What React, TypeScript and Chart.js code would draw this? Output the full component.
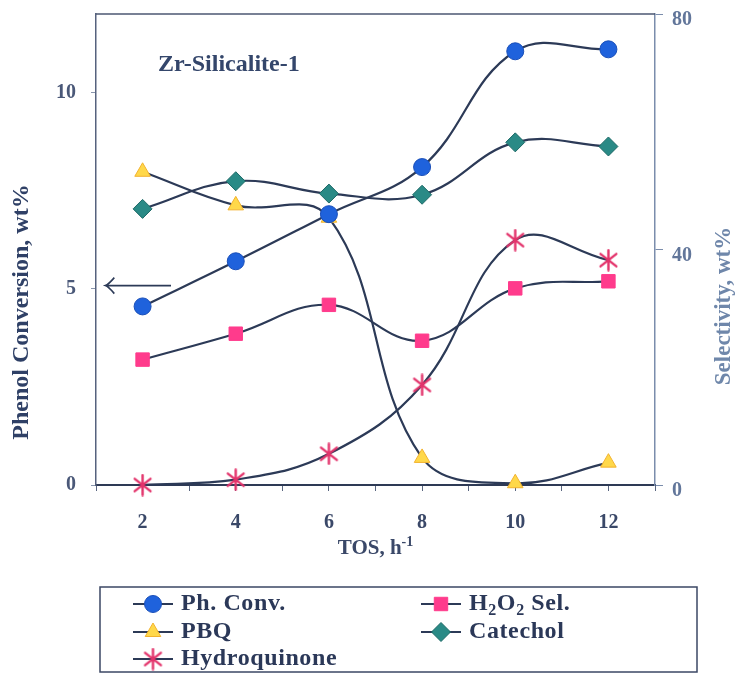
import React, { useEffect, useRef } from 'react';
import { Chart, registerables } from 'chart.js';

Chart.register(...registerables);

// ---- data ----
const tos = [2, 4, 6, 8, 10, 12];
const phConv = [4.55, 5.7, 6.9, 8.1, 11.05, 11.1];
const h2o2Sel = [21.3, 25.7, 30.6, 24.5, 33.4, 34.6];
const pbq = [53.2, 47.5, 45.4, 4.6, 0.3, 3.8];
const catechol = [46.9, 51.6, 49.5, 49.3, 58.2, 57.5];
const hydroquinone = [0, 0.9, 5.3, 17.0, 41.6, 38.2];

const seriesNames = ['Ph. Conv.', 'H₂O₂ Sel.', 'PBQ', 'Catechol', 'Hydroquinone'];
const xTickLabels = [2, 4, 6, 8, 10, 12];
const leftTicks = [0, 5, 10];
const rightTicks = [0, 40, 80];

const FONT = '"Liberation Serif", "Times New Roman", serif';
const LINE = '#2c3a57';

function makeAsterisk(color: string, size: number) {
  const c = document.createElement('canvas');
  c.width = size;
  c.height = size;
  const g = c.getContext('2d')!;
  g.strokeStyle = color;
  g.lineWidth = 2.4;
  g.lineCap = 'round';
  const r = size / 2 - 1.5;
  const cx = size / 2;
  g.beginPath();
  for (const a of [90, 38, 142]) {
    const rad = (a * Math.PI) / 180;
    g.moveTo(cx - r * Math.cos(rad), cx + r * Math.sin(rad));
    g.lineTo(cx + r * Math.cos(rad), cx - r * Math.sin(rad));
  }
  g.stroke();
  return c;
}

function drawMarker(ctx: CanvasRenderingContext2D, ds: any, x: number, y: number) {
  const style = ds.pointStyle;
  const r = ds.pointRadius;
  ctx.save();
  ctx.fillStyle = ds.pointBackgroundColor;
  ctx.strokeStyle = ds.pointBorderColor;
  ctx.lineWidth = ds.pointBorderWidth;
  if (typeof style !== 'string') {
    ctx.drawImage(style, x - style.width / 2, y - style.height / 2);
    ctx.restore();
    return;
  }
  ctx.beginPath();
  if (style === 'circle') {
    ctx.arc(x, y, r, 0, Math.PI * 2);
  } else if (style === 'rect') {
    const s = Math.SQRT1_2 * r;
    ctx.rect(x - s, y - s, 2 * s, 2 * s);
  } else if (style === 'triangle') {
    for (let i = 0; i < 3; i++) {
      const a = -Math.PI / 2 + (i * 2 * Math.PI) / 3;
      const px = x + r * Math.cos(a);
      const py = y + r * Math.sin(a);
      if (i === 0) ctx.moveTo(px, py);
      else ctx.lineTo(px, py);
    }
    ctx.closePath();
  } else if (style === 'rectRot') {
    ctx.moveTo(x, y - r);
    ctx.lineTo(x + r, y);
    ctx.lineTo(x, y + r);
    ctx.lineTo(x - r, y);
    ctx.closePath();
  }
  ctx.fill();
  ctx.stroke();
  ctx.restore();
}

function drawSubSupText(
  ctx: CanvasRenderingContext2D,
  parts: { t: string; k: 'n' | 'sub' | 'sup' }[],
  x: number,
  y: number,
  size: number,
  align: 'left' | 'center'
) {
  const big = `bold ${size}px ${FONT}`;
  const small = `bold ${Math.round(size * 0.68)}px ${FONT}`;
  let total = 0;
  for (const p of parts) {
    ctx.font = p.k === 'n' ? big : small;
    total += ctx.measureText(p.t).width;
  }
  let cx = align === 'center' ? x - total / 2 : x;
  ctx.textAlign = 'left';
  ctx.textBaseline = 'middle';
  for (const p of parts) {
    ctx.font = p.k === 'n' ? big : small;
    const dy = p.k === 'sub' ? size * 0.28 : p.k === 'sup' ? -size * 0.32 : 0;
    ctx.fillText(p.t, cx, y + dy);
    cx += ctx.measureText(p.t).width;
  }
}

function splitSub(label: string) {
  const map: Record<string, string> = { '₂': '2', '₁': '1', '₃': '3' };
  const parts: { t: string; k: 'n' | 'sub' | 'sup' }[] = [];
  for (const ch of label) {
    const k = map[ch] ? 'sub' : 'n';
    const t = map[ch] || ch;
    const last = parts[parts.length - 1];
    if (last && last.k === k) last.t += t;
    else parts.push({ t, k });
  }
  return parts;
}

export default function App() {
  const ref = useRef<HTMLCanvasElement>(null);

  useEffect(() => {
    const canvas = ref.current!;
    const star = makeAsterisk('#e3336b', 23);

    const mk = (i: number, values: number[], axis: string, style: any, radius: number, bg: string, border: string) => ({
      label: seriesNames[i],
      data: tos.map((t, k) => ({ x: t, y: values[k] })),
      yAxisID: axis,
      borderColor: LINE,
      borderWidth: 2.2,
      tension: 0.4,
      pointStyle: style,
      pointRadius: radius,
      pointHoverRadius: radius,
      pointBackgroundColor: bg,
      pointBorderColor: border,
      pointBorderWidth: 1,
      fill: false,
      clip: 12,
    });

    const datasets = [
      mk(0, phConv, 'yL', 'circle', 8.5, '#1f62dc', '#1a4fb8'),
      mk(1, h2o2Sel, 'yR', 'rect', 9.5, '#ff3b8c', '#ff3b8c'),
      mk(2, pbq, 'yR', 'triangle', 9, '#ffd84a', '#f2b22e'),
      mk(3, catechol, 'yR', 'rectRot', 9.5, '#2a8a86', '#1d6966'),
      mk(4, hydroquinone, 'yR', star, 10, '#e3336b', '#e3336b'),
    ];

    const overlay = {
      id: 'overlay',
      afterDraw(chart: any) {
        const { ctx, chartArea: ca, scales } = chart;
        ctx.save();
        // top frame line
        ctx.strokeStyle = '#4b5772';
        ctx.lineWidth = 1.5;
        ctx.beginPath();
        ctx.moveTo(ca.left, ca.top);
        ctx.lineTo(ca.right, ca.top);
        ctx.stroke();

        // inner title
        ctx.font = `bold 24px ${FONT}`;
        ctx.fillStyle = '#34466b';
        ctx.textAlign = 'left';
        ctx.textBaseline = 'middle';
        ctx.fillText('Zr-Silicalite-1', scales.x.getPixelForValue(2.33), scales.yL.getPixelForValue(10.7));

        // arrow pointing to left axis
        const ay = scales.yL.getPixelForValue(5.08);
        const ax0 = scales.x.getPixelForValue(1.2);
        const ax1 = scales.x.getPixelForValue(2.61);
        ctx.strokeStyle = LINE;
        ctx.lineWidth = 1.6;
        ctx.beginPath();
        ctx.moveTo(ax1, ay);
        ctx.lineTo(ax0, ay);
        ctx.moveTo(ax0 + 9, ay - 8);
        ctx.quadraticCurveTo(ax0 + 3, ay - 1, ax0, ay);
        ctx.quadraticCurveTo(ax0 + 3, ay + 1, ax0 + 9, ay + 8);
        ctx.stroke();

        // left axis title
        ctx.save();
        ctx.translate(14, 304);
        ctx.rotate(-Math.PI / 2);
        ctx.font = `bold 24px ${FONT}`;
        ctx.fillStyle = '#2f4066';
        ctx.textAlign = 'center';
        ctx.textBaseline = 'middle';
        ctx.fillText('Phenol Conversion, wt%', 0, 0);
        ctx.restore();

        // right axis title
        ctx.save();
        ctx.translate(716, 298);
        ctx.rotate(-Math.PI / 2);
        ctx.font = `bold 23px ${FONT}`;
        ctx.fillStyle = '#6f87aa';
        ctx.textAlign = 'center';
        ctx.textBaseline = 'middle';
        ctx.fillText('Selectivity, wt%', 0, 0);
        ctx.restore();

        // x axis title
        ctx.fillStyle = '#3a4868';
        drawSubSupText(
          ctx,
          [
            { t: 'TOS, h', k: 'n' },
            { t: '-1', k: 'sup' },
          ],
          (ca.left + ca.right) / 2,
          541,
          21,
          'center'
        );

        // legend
        const bx = 92, by = 579, bw = 597, bh = 85;
        ctx.strokeStyle = '#3b4764';
        ctx.lineWidth = 1.5;
        ctx.strokeRect(bx, by, bw, bh);
        const cols = [145, 433];
        const rows = [596, 624, 651];
        chart.data.datasets.forEach((ds: any, i: number) => {
          const cxm = cols[i % 2];
          const cy = rows[Math.floor(i / 2)];
          ctx.strokeStyle = LINE;
          ctx.lineWidth = 2;
          ctx.beginPath();
          ctx.moveTo(cxm - 20, cy);
          ctx.lineTo(cxm + 20, cy);
          ctx.stroke();
          drawMarker(ctx, ds, cxm, cy);
          ctx.fillStyle = '#2b3858';
          (ctx as any).letterSpacing = '0.6px';
          drawSubSupText(ctx, splitSub(ds.label), cxm + 28, cy, 24, 'left');
          (ctx as any).letterSpacing = '0px';
        });
        ctx.restore();
      },
    };

    const noPadY = (w: number) => (s: any) => {
      s.width = w;
      s.paddingTop = 0;
      s.paddingBottom = 0;
    };

    const chart = new Chart(canvas, {
      type: 'line',
      data: { datasets } as any,
      options: {
        animation: false,
        responsive: false,
        devicePixelRatio: 1,
        events: [],
        layout: { autoPadding: false, padding: { top: 6, bottom: 129, left: 0, right: 0 } },
        plugins: { legend: { display: false }, tooltip: { enabled: false } },
        scales: {
          x: {
            type: 'linear',
            min: 1,
            max: 13,
            afterFit: (s: any) => {
              s.height = 60;
              s.paddingLeft = 0;
              s.paddingRight = 0;
            },
            border: { display: true, color: '#2e3a55', width: 2 },
            grid: { drawOnChartArea: false, drawTicks: true, tickLength: 6, color: '#5a6680', lineWidth: 1 },
            ticks: {
              stepSize: 1,
              autoSkip: false,
              maxRotation: 0,
              padding: 20,
              color: '#3a4868',
              font: { family: FONT, size: 20, weight: 'bold' },
              callback: (v: any) => (xTickLabels.includes(Number(v)) ? String(v) : ''),
            },
          },
          yL: {
            type: 'linear',
            position: 'left',
            min: 0,
            max: 12,
            afterBuildTicks: (s: any) => {
              s.ticks = leftTicks.map((v) => ({ value: v }));
            },
            afterFit: noPadY(88),
            border: { display: true, color: '#56627e', width: 1.5 },
            grid: { drawOnChartArea: false, drawTicks: true, tickLength: 5, color: '#8a96ad' },
            ticks: {
              padding: 15,
              color: '#4a5878',
              font: { family: FONT, size: 20, weight: 'bold' },
            },
          },
          yR: {
            type: 'linear',
            position: 'right',
            min: 0,
            max: 80,
            afterBuildTicks: (s: any) => {
              s.ticks = rightTicks.map((v) => ({ value: v }));
            },
            afterFit: noPadY(81),
            border: { display: true, color: '#7b8dac', width: 1.5 },
            grid: { drawOnChartArea: false, drawTicks: true, tickLength: 8, color: '#7b8dac' },
            ticks: {
              padding: 9,
              labelOffset: 6,
              color: '#62769a',
              font: { family: FONT, size: 20, weight: 'bold' },
            },
          },
        },
      } as any,
      plugins: [overlay],
    });

    return () => chart.destroy();
  }, []);

  return (
    <div style={{ width: 728, height: 666 }}>
      <canvas ref={ref} width={728} height={666} style={{ display: 'block', width: 728, height: 666 }} />
    </div>
  );
}
